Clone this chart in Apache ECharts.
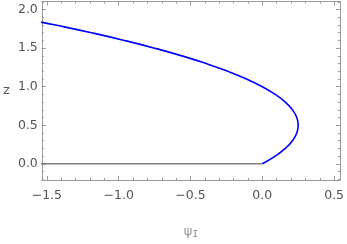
<!DOCTYPE html>
<html>
<head>
<meta charset="utf-8">
<script src="https://cdn.jsdelivr.net/npm/echarts@6/dist/echarts.min.js"></script>
<style>html,body{margin:0;padding:0;background:#fff}#c{width:347px;height:244px}</style>
</head>
<body>
<div id="c"></div>
<script>
// Blue curve: (psi_I, z) pairs
const blueZ   = [0.0, 0.1, 0.2, 0.3, 0.4, 0.5, 0.6, 0.7, 0.8, 0.9, 1.0, 1.1, 1.2, 1.3, 1.4, 1.5, 1.6, 1.7, 1.8, 1.86];
const bluePsi = [0.0, 0.09, 0.16, 0.21, 0.24, 0.25, 0.24, 0.21, 0.16, 0.09, 0.0, -0.11, -0.24, -0.39, -0.56, -0.75, -0.96, -1.19, -1.44, -1.6];
// Gray baseline
const grayPsi = [-1.6, 0.0];
const grayZ   = [0.0, 0.0];
// Ticks
const xMajor = [-1.5, -1.0, -0.5, 0.0, 0.5];
const xMinor = [-1.5,-1.4,-1.3,-1.2,-1.1,-1.0,-0.9,-0.8,-0.7,-0.6,-0.5,-0.4,-0.3,-0.2,-0.1,0.0,0.1,0.2,0.3,0.4,0.5];
const yMajor = [0.0, 0.5, 1.0, 1.5, 2.0];
const yMinor = [-0.2,-0.1,0.0,0.1,0.2,0.3,0.4,0.5,0.6,0.7,0.8,0.9,1.0,1.1,1.2,1.3,1.4,1.5,1.6,1.7,1.8,1.9,2.0,2.1];

const XMIN = -1.535, XMAX = 0.54, YMIN = -0.21, YMAX = 2.105;
const frameColor = '#9a9a9a';
const labelColor = '#555';
const fmt = v => (Math.abs(v) < 1e-9 ? '0.0' : v.toFixed(1).replace('-', '\u2212'));

function xAx(pos, ticks, len, labels, line) {
  return {
    type: 'value', position: pos, min: XMIN, max: XMAX,
    axisLine: {show: line, onZero: false, lineStyle: {color: frameColor, width: 1}},
    axisTick: {show: true, inside: true, length: len, customValues: ticks, lineStyle: {color: frameColor}},
    axisLabel: labels ? {show: true, customValues: ticks, formatter: fmt, color: labelColor, fontFamily: 'DejaVu Sans', fontSize: 12.5, margin: 9} : {show: false},
    splitLine: {show: false}
  };
}
function yAx(pos, ticks, len, labels, line) {
  return {
    type: 'value', position: pos, min: YMIN, max: YMAX,
    axisLine: {show: line, onZero: false, lineStyle: {color: frameColor, width: 1}},
    axisTick: {show: true, inside: true, length: len, customValues: ticks, lineStyle: {color: frameColor}},
    axisLabel: labels ? {show: true, customValues: ticks, formatter: fmt, color: labelColor, fontFamily: 'DejaVu Sans', fontSize: 12.5, margin: 4} : {show: false},
    splitLine: {show: false}
  };
}

const xA0 = xAx('bottom', xMajor, 4, true, true);
xA0.name = '{a|\u03c8}{b|I}';
xA0.nameLocation = 'middle';
xA0.nameGap = 44;
xA0.nameTextStyle = {rich: {a: {fontFamily: 'DejaVu Sans', fontSize: 13, color: '#999'}, b: {fontFamily: 'DejaVu Sans Mono', fontSize: 9, color: '#888', padding: [6, 0, 0, 0]}}};
const yA0 = yAx('left', yMajor, 4, true, true);
yA0.name = 'z';
yA0.nameLocation = 'middle';
yA0.nameRotate = 0;
yA0.nameGap = 32;
yA0.nameTextStyle = {fontFamily: 'DejaVu Sans', fontSize: 13, color: labelColor, padding: [4, 0, 0, 0]};

const blueData = bluePsi.map((p, i) => [p, blueZ[i]]);
const grayData = grayPsi.map((p, i) => [p, grayZ[i]]);

const chart = echarts.init(document.getElementById('c'), null, {renderer: 'canvas'});
chart.setOption({
  animation: false,
  grid: {left: 38, right: 5, top: 1.5, bottom: 56, containLabel: false},
  xAxis: [xA0, xAx('bottom', xMinor, 2, false, false), xAx('top', xMajor, 4, false, true), xAx('top', xMinor, 2, false, false)],
  yAxis: [yA0, yAx('left', yMinor, 2, false, false), yAx('right', yMajor, 4, false, true), yAx('right', yMinor, 2, false, false)],
  series: [
    {type: 'line', data: grayData, xAxisIndex: 0, yAxisIndex: 0, showSymbol: false, symbol: 'none', lineStyle: {color: '#808080', width: 1.5}, clip: true},
    {type: 'line', data: blueData, xAxisIndex: 0, yAxisIndex: 0, showSymbol: false, symbol: 'none', smooth: true, lineStyle: {color: '#0000ff', width: 1.6}, clip: true}
  ]
});
</script>
</body>
</html>
